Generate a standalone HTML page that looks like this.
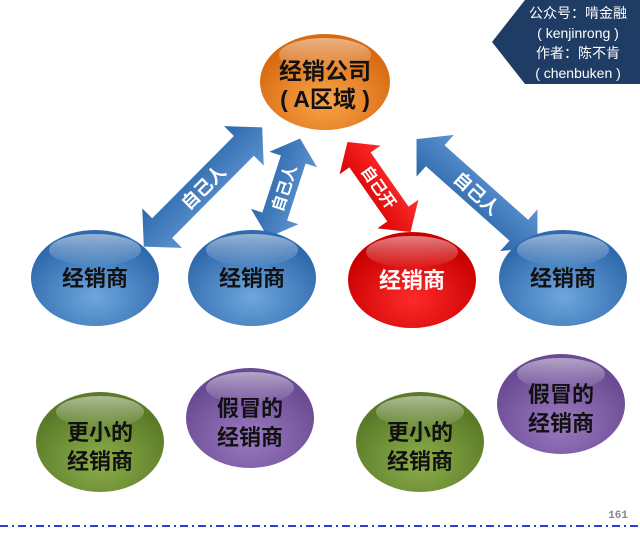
<!DOCTYPE html>
<html><head><meta charset="utf-8"><style>
html,body{margin:0;padding:0;background:#fff;}
svg{display:block;}
text{font-family:"Liberation Sans","Noto Sans CJK SC",sans-serif;font-weight:bold;}
</style></head><body>
<svg width="640" height="533" viewBox="0 0 640 533" xmlns="http://www.w3.org/2000/svg">
<defs>
<radialGradient id="gO" cx="50%" cy="70%" r="60%"><stop offset="0" stop-color="#f9a54a"/><stop offset="1" stop-color="#d86a10"/></radialGradient>
<radialGradient id="gB" cx="50%" cy="70%" r="60%"><stop offset="0" stop-color="#6ea6dc"/><stop offset="1" stop-color="#2f6aae"/></radialGradient>
<radialGradient id="gR" cx="50%" cy="70%" r="60%"><stop offset="0" stop-color="#ff2a2a"/><stop offset="1" stop-color="#c80000"/></radialGradient>
<radialGradient id="gG" cx="50%" cy="70%" r="60%"><stop offset="0" stop-color="#8cae4a"/><stop offset="1" stop-color="#5a7a28"/></radialGradient>
<radialGradient id="gP" cx="50%" cy="70%" r="60%"><stop offset="0" stop-color="#9a7ac0"/><stop offset="1" stop-color="#6a4a92"/></radialGradient>
<linearGradient id="hl" x1="0" y1="0" x2="0" y2="1"><stop offset="0" stop-color="#fff" stop-opacity="0.5"/><stop offset="1" stop-color="#fff" stop-opacity="0.02"/></linearGradient>
<linearGradient id="aB" x1="0" y1="0" x2="0" y2="1"><stop offset="0" stop-color="#5d93d0"/><stop offset="1" stop-color="#2d68ab"/></linearGradient>
<linearGradient id="aR" x1="0" y1="0" x2="0" y2="1"><stop offset="0" stop-color="#ff3030"/><stop offset="1" stop-color="#d80000"/></linearGradient>
</defs>

<polygon points="492,42 525,0 640,0 640,84 525,84" fill="#1f3c64"/>
<g fill="#fff" font-size="14" text-anchor="middle">
<text x="578" y="18" style="font-weight:normal">公众号：啃金融</text>
<text x="578" y="38" style="font-weight:normal">( kenjinrong )</text>
<text x="578" y="58" style="font-weight:normal">作者：陈不肯</text>
<text x="578" y="78" style="font-weight:normal">( chenbuken )</text>
</g>

<g transform="translate(203,187) rotate(134.8)">
<polygon points="-84,0 -58,-28 -58,-14 58,-14 58,-28 84,0 58,28 58,14 -58,14 -58,28" fill="url(#aB)"/>
</g>
<text transform="translate(203,187) rotate(-45)" x="0" y="7" font-size="18" fill="#fff" text-anchor="middle">自己人</text>
<g transform="translate(284,188) rotate(108)">
<polygon points="-52,0 -30,-25 -30,-13 30,-13 30,-25 52,0 30,25 30,13 -30,13 -30,25" fill="url(#aB)"/>
</g>
<text transform="translate(284,188) rotate(-72)" x="0" y="6" font-size="16" fill="#fff" text-anchor="middle">自己人</text>
<g transform="translate(379,187) rotate(55)">
<polygon points="-55,0 -33,-25 -33,-13 33,-13 33,-25 55,0 33,25 33,13 -33,13 -33,25" fill="url(#aR)"/>
</g>
<text transform="translate(379,187) rotate(55)" x="0" y="6" font-size="16" fill="#fff" text-anchor="middle">自己开</text>
<g transform="translate(477,193) rotate(41.7)">
<polygon points="-81,0 -56,-28 -56,-14 56,-14 56,-28 81,0 56,28 56,14 -56,14 -56,28" fill="url(#aB)"/>
</g>
<text transform="translate(477,193) rotate(42)" x="0" y="7" font-size="18" fill="#fff" text-anchor="middle">自己人</text>

<ellipse cx="325" cy="82" rx="65" ry="48" fill="url(#gO)"/>
<ellipse cx="325" cy="55" rx="46" ry="17" fill="url(#hl)"/>
<text x="325" y="79" font-size="23" text-anchor="middle" fill="#111">经销公司</text>
<text x="325" y="107" font-size="23" text-anchor="middle" fill="#111">( A区域 )</text>

<g font-size="22" text-anchor="middle">
<ellipse cx="95" cy="278" rx="64" ry="48" fill="url(#gB)"/>
<ellipse cx="95" cy="250" rx="46" ry="16" fill="url(#hl)"/>
<text x="95" y="286" fill="#111">经销商</text>
<ellipse cx="252" cy="278" rx="64" ry="48" fill="url(#gB)"/>
<ellipse cx="252" cy="250" rx="46" ry="16" fill="url(#hl)"/>
<text x="252" y="286" fill="#111">经销商</text>
<ellipse cx="412" cy="280" rx="64" ry="48" fill="url(#gR)"/>
<ellipse cx="412" cy="252" rx="46" ry="16" fill="url(#hl)"/>
<text x="412" y="288" fill="#fff">经销商</text>
<ellipse cx="563" cy="278" rx="64" ry="48" fill="url(#gB)"/>
<ellipse cx="563" cy="250" rx="46" ry="16" fill="url(#hl)"/>
<text x="563" y="286" fill="#111">经销商</text>
</g>

<g font-size="22" text-anchor="middle" fill="#111">
<ellipse cx="100" cy="442" rx="64" ry="50" fill="url(#gG)"/>
<ellipse cx="100" cy="412" rx="44" ry="16" fill="url(#hl)"/>
<text x="100" y="440">更小的</text><text x="100" y="469">经销商</text>
<ellipse cx="250" cy="418" rx="64" ry="50" fill="url(#gP)"/>
<ellipse cx="250" cy="388" rx="44" ry="16" fill="url(#hl)"/>
<text x="250" y="416">假冒的</text><text x="250" y="445">经销商</text>
<ellipse cx="420" cy="442" rx="64" ry="50" fill="url(#gG)"/>
<ellipse cx="420" cy="412" rx="44" ry="16" fill="url(#hl)"/>
<text x="420" y="440">更小的</text><text x="420" y="469">经销商</text>
<ellipse cx="561" cy="404" rx="64" ry="50" fill="url(#gP)"/>
<ellipse cx="561" cy="374" rx="44" ry="16" fill="url(#hl)"/>
<text x="561" y="402">假冒的</text><text x="561" y="431">经销商</text>
</g>

<text x="628" y="518" font-size="11" fill="#888" text-anchor="end" style="font-family:'Liberation Mono',monospace">161</text>
<line x1="0" y1="526" x2="640" y2="526" stroke="#2a3fd8" stroke-width="2" stroke-dasharray="8,4,2,4"/>
</svg>
</body></html>
